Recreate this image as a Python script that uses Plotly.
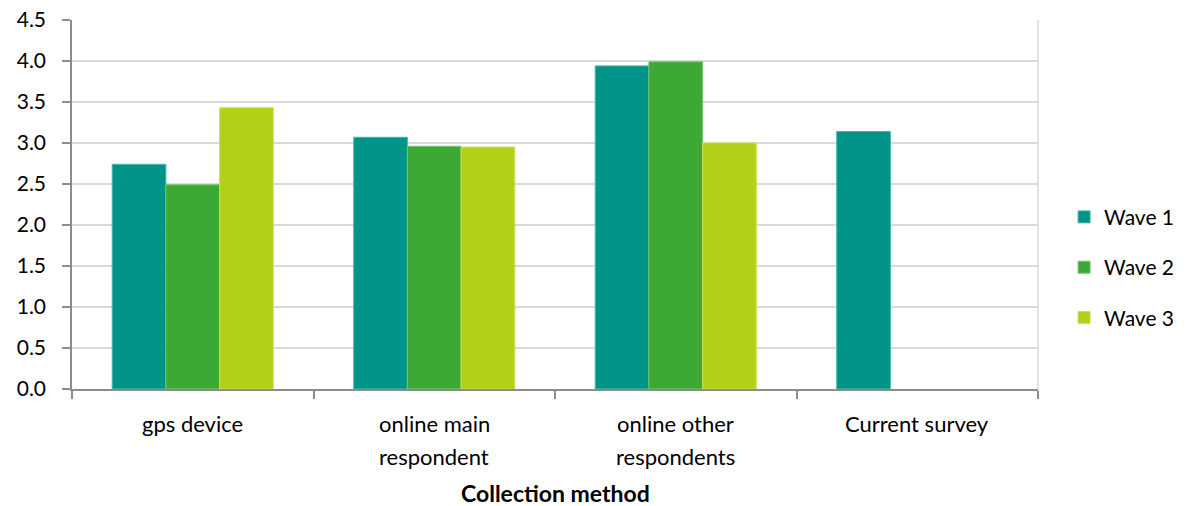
import plotly.graph_objects as go

# Category labels, each split into its display lines
categories = ["gps device", "online main respondent", "online other respondents", "Current survey"]
category_lines = [["gps device"], ["online main", "respondent"], ["online other", "respondents"], ["Current survey"]]

series_names = ["Wave 1", "Wave 2", "Wave 3"]
wave1 = [2.74, 3.07, 3.94, 3.14]
wave2 = [2.49, 2.96, 3.99, None]
wave3 = [3.43, 2.95, 3.00, None]
series_values = [wave1, wave2, wave3]

colors = ["#009488", "#3DA935", "#B3D016"]
edge_colors = ["#4DB4AB", "#77C371", "#CBE05C"]

y_ticks = [0.0, 0.5, 1.0, 1.5, 2.0, 2.5, 3.0, 3.5, 4.0, 4.5]
x_title = "Collection method"

FONT = "Lato"
FS = 22
fig = go.Figure()
for i, (name, vals) in enumerate(zip(series_names, series_values)):
    fig.add_trace(go.Bar(
        x=categories, y=vals, name=name,
        legendgroup=name,
        marker=dict(color=colors[i], line=dict(color=edge_colors[i], width=1)),
    ))

fig.update_layout(
    width=1187, height=506,
    margin=dict(l=72, r=149, t=20, b=117, autoexpand=False),
    plot_bgcolor="white", paper_bgcolor="white",
    barmode="group", bargap=0.333, bargroupgap=0,
    font=dict(family=FONT, size=FS, color="#000000"),
    legend=dict(x=1.027, y=0.33, xanchor="left", yanchor="middle",
                font=dict(family=FONT, size=21, color="#000000"),
                tracegroupgap=20, itemwidth=30),
    showlegend=True,
)

fig.update_xaxes(
    showticklabels=False, automargin=False,
    showline=True, linecolor="#8C8C8C", linewidth=1.5,
    ticks="outside", tickson="boundaries", ticklen=8, tickcolor="#8C8C8C", tickwidth=1.5,
    showgrid=False, range=[-0.5, 3.5],
)
fig.update_yaxes(
    range=[0, 4.5], tickvals=y_ticks, ticktext=[f"{v:.1f}" for v in y_ticks],
    tickfont=dict(family=FONT, size=21, color="#000000"), automargin=False,
    showline=True, linecolor="#8C8C8C", linewidth=1.5,
    ticks="outside", ticklen=8, tickcolor="#8C8C8C", tickwidth=1.5,
    showgrid=True, gridcolor="#D9D9D9", gridwidth=1.5,
    zeroline=False, ticklabelstandoff=12,
)

# Right border of the plotting area
fig.add_shape(type="line", xref="paper", yref="y", x0=1, x1=1, y0=0, y1=4.5,
              line=dict(color="#D9D9D9", width=1.5))

# Category labels, line by line
for cat, lines in zip(categories, category_lines):
    for j, line in enumerate(lines):
        fig.add_annotation(x=cat, xref="x", y=0, yref="paper", yanchor="middle",
                           yshift=-34 - 33 * j, text=line, showarrow=False,
                           font=dict(family=FONT, size=FS, color="#000000"))

fig.add_annotation(x=0.5, xref="paper", y=0, yref="paper", yanchor="middle",
                   yshift=-104, text=f"<b>{x_title}</b>", showarrow=False,
                   font=dict(family=FONT, size=23, color="#000000"))

fig.write_html("out.html")
